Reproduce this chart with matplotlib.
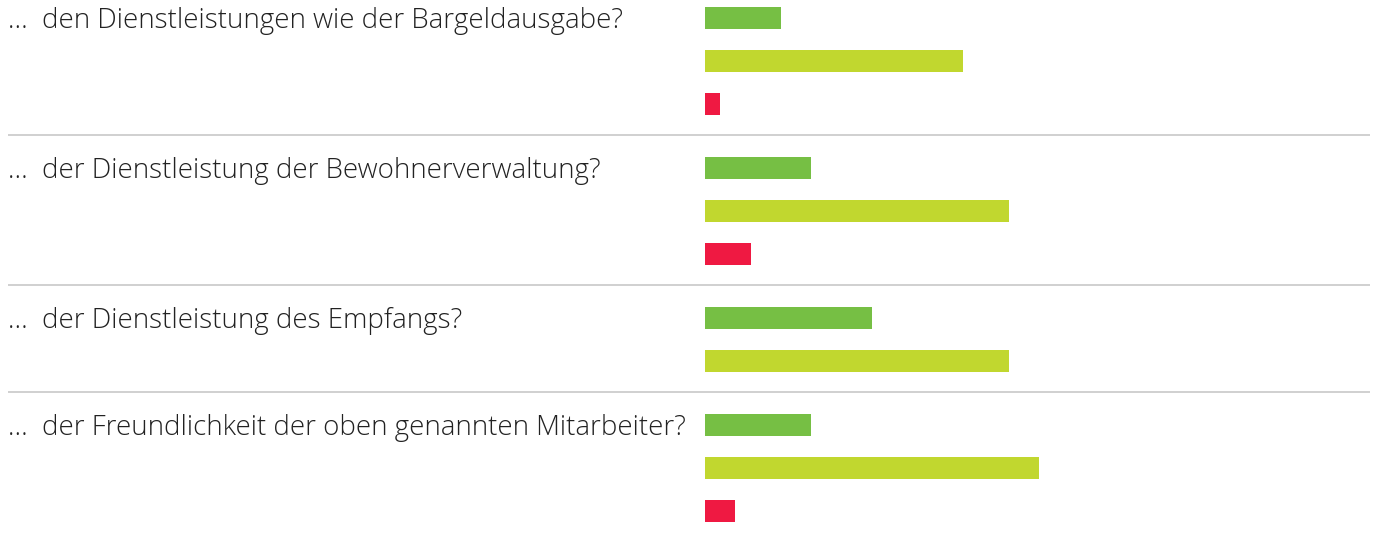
import matplotlib
matplotlib.use("Agg")
import matplotlib.pyplot as plt

# ---- data ----
questions = [
    "…  den Dienstleistungen wie der Bargeldausgabe?",
    "…  der Dienstleistung der Bewohnerverwaltung?",
    "…  der Dienstleistung des Empfangs?",
    "…  der Freundlichkeit der oben genannten Mitarbeiter?",
]
series_a = [5, 7, 11, 7]      # green
series_b = [17, 20, 20, 22]   # yellow-green
series_c = [1, 3, 0, 2]       # red (0 = not shown)

colors = ["#76bf44", "#c1d72f", "#ef1942"]

# ---- layout (pixels) ----
W, H = 1378, 537
x0_px = 705.0
px_per_unit = 15.2
bar_h = 22
bar_step = 43
pad_top = 22
pad_bot = 20

fig = plt.figure(figsize=(W / 100, H / 100), dpi=100)
ax = fig.add_axes([0, 0, 1, 1])
ax.set_xlim(-x0_px / px_per_unit, (W - x0_px) / px_per_unit)
ax.set_ylim(H, 0)
ax.axis("off")

ytrans = ax.get_yaxis_transform()
group_top = -15.0
for gi, q in enumerate(questions):
    vals = [series_a[gi], series_b[gi], series_c[gi]]
    shown = [(v, c) for v, c in zip(vals, colors) if v > 0]
    first_center = group_top + pad_top + bar_h / 2
    for bi, (v, c) in enumerate(shown):
        yc = first_center + bi * bar_step
        ax.barh(yc, v, height=bar_h, left=0, color=c, linewidth=0)
    ax.text(8 / W, first_center + bar_h / 2 - 1, q, transform=ytrans,
            ha="left", va="baseline", fontsize=19.9, color="#222222",
            family=["Open Sans", "DejaVu Sans"], fontweight="light")
    group_bottom = first_center + (len(shown) - 1) * bar_step + bar_h / 2 + pad_bot
    if gi < len(questions) - 1:
        ax.hlines(group_bottom, 8 / W, 1370 / W, transform=ytrans,
                  color="#c8c8c8", linewidth=1.2)
    group_top = group_bottom

fig.savefig("out.png", dpi=100)
